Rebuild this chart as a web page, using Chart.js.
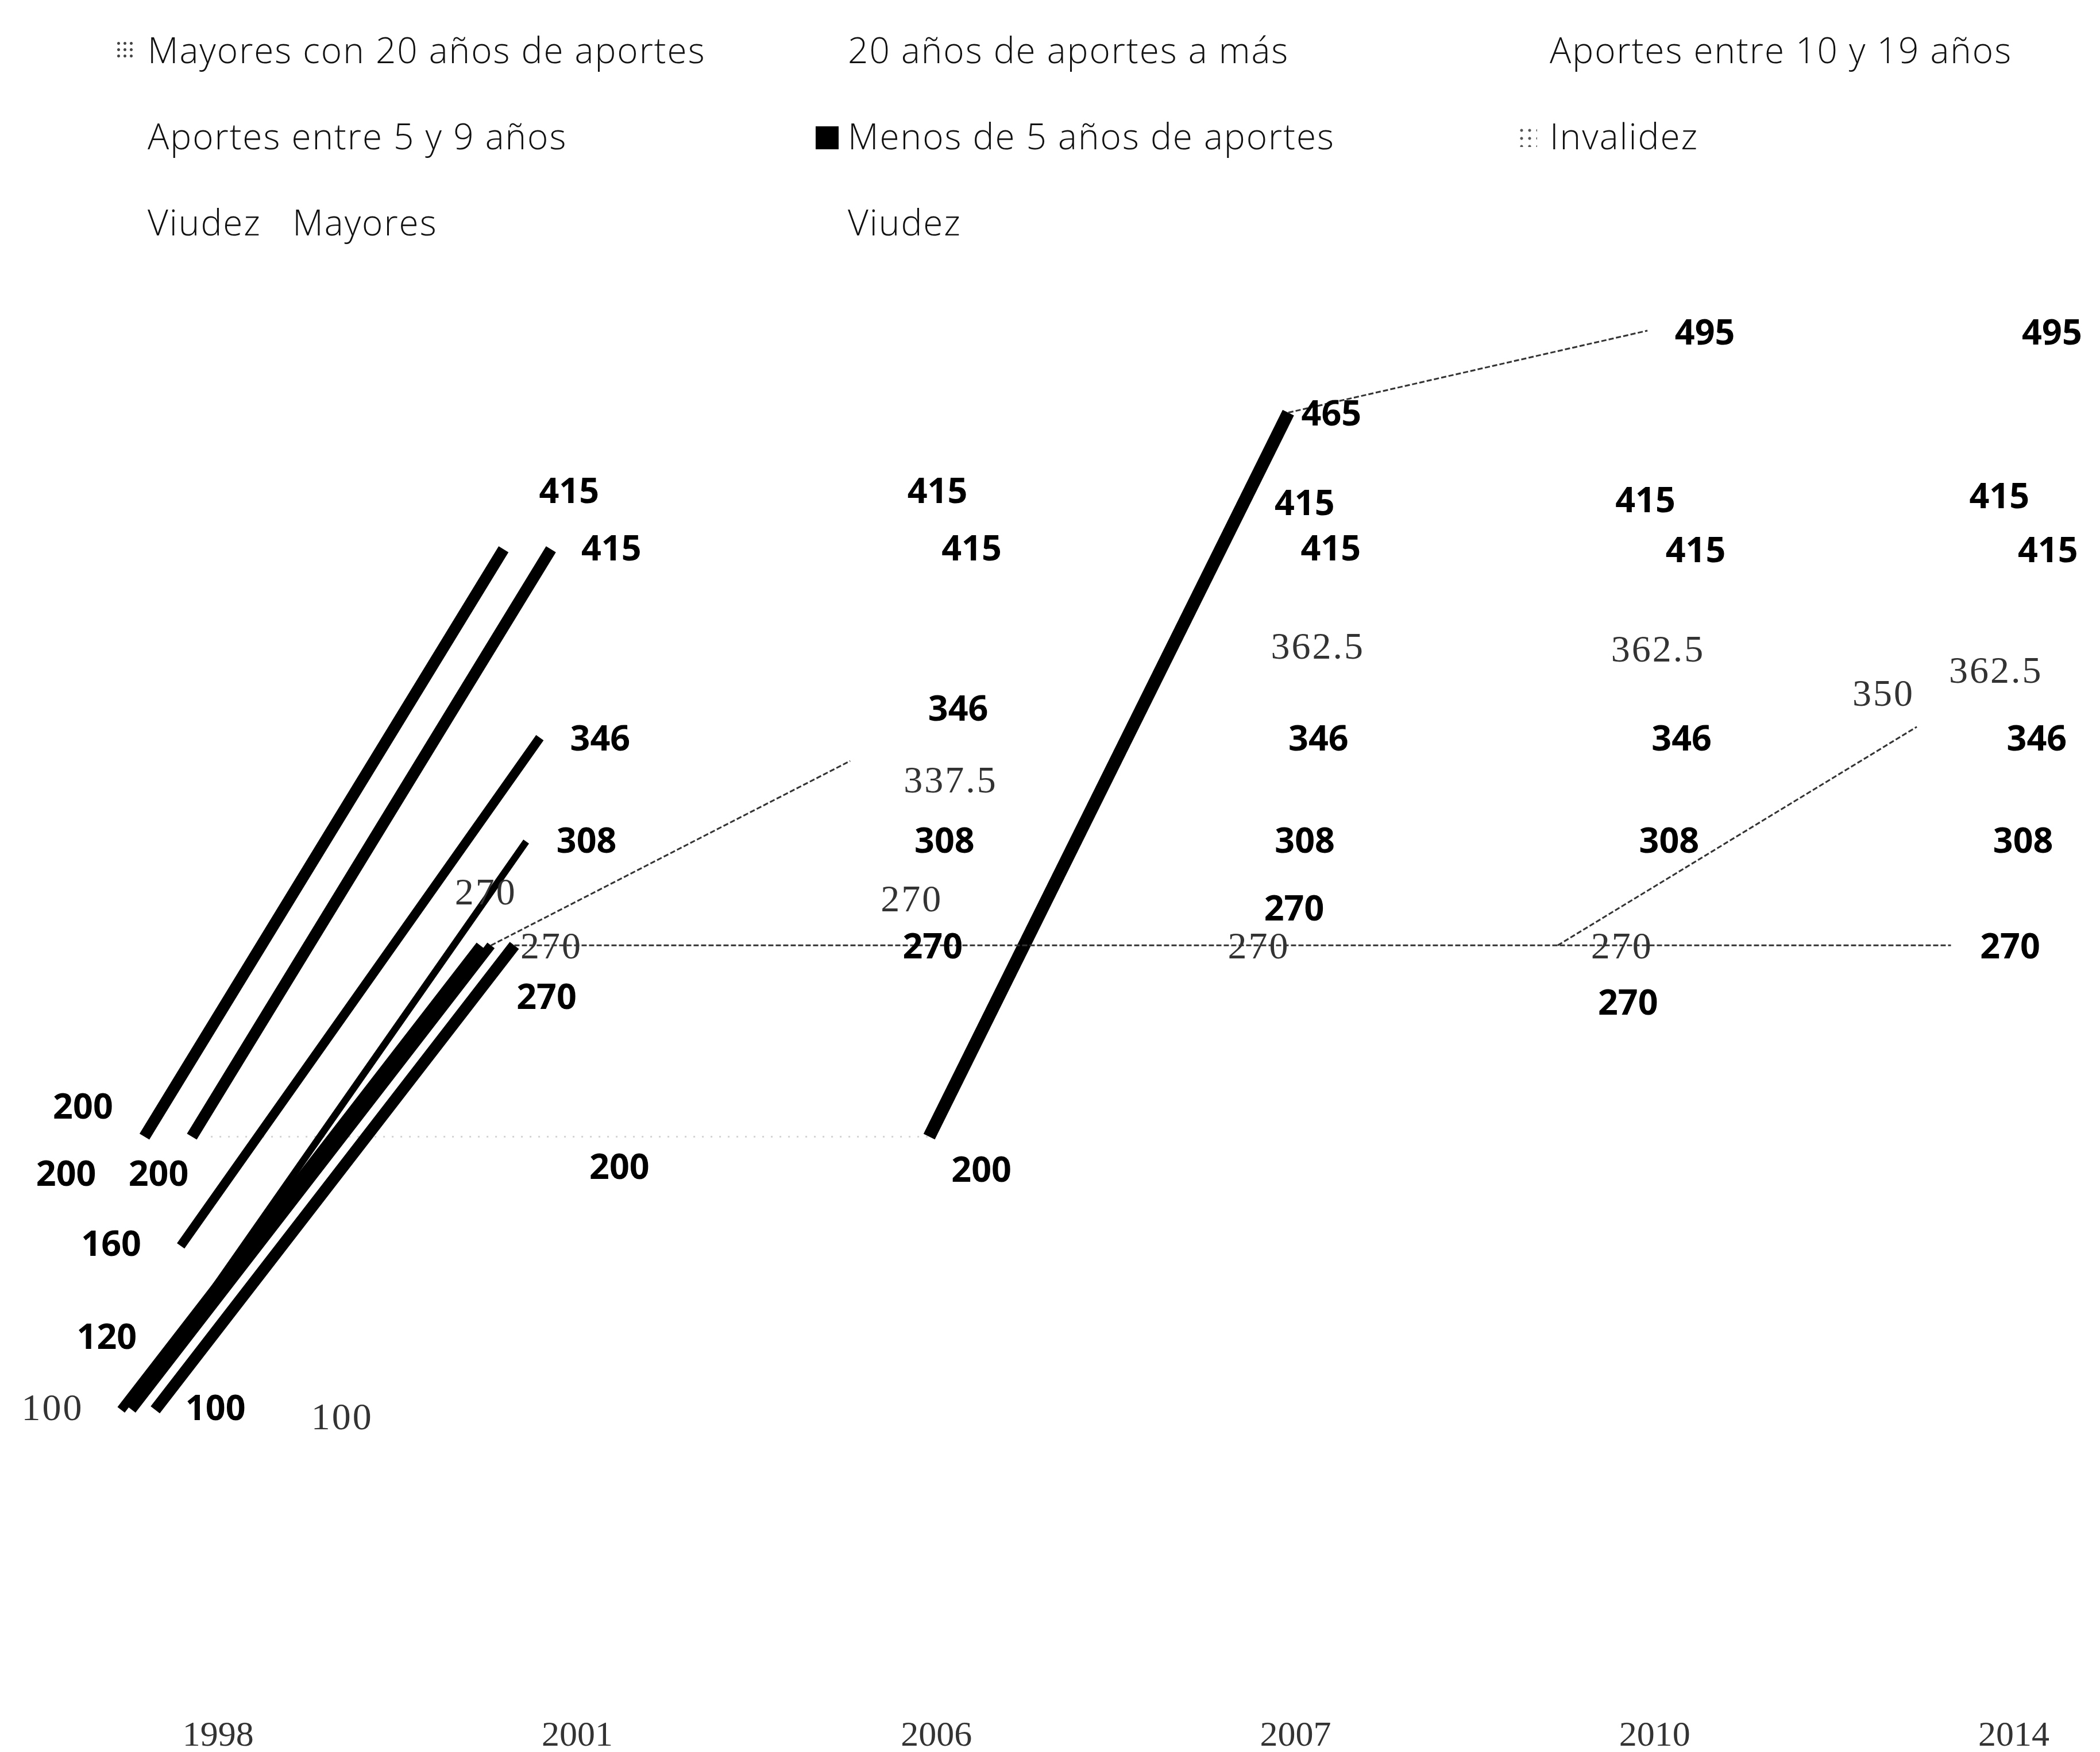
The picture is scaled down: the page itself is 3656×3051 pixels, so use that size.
<!DOCTYPE html>
<html lang="es">
<head>
<meta charset="utf-8">
<title>Pensiones mínimas</title>
<script src="https://cdn.jsdelivr.net/npm/chart.js@4.4.1/dist/chart.umd.min.js"></script>
<style>
html,body{margin:0;padding:0;background:#fff;}
#wrap{position:relative;width:3656px;height:3051px;}
#chart{position:absolute;left:0;top:0;}
.leg{position:absolute;font-family:'Open Sans',sans-serif;font-weight:300;font-size:62px;line-height:62px;letter-spacing:2px;color:#111;white-space:pre;}
.mk{position:absolute;}
.mk.hatch{width:30px;height:34px;background-image:radial-gradient(#444 2px,transparent 3px);background-size:11px 11px;}
.mk.solid{width:40px;height:40px;background:#000;}
.mk.dots{width:34px;height:36px;background-image:radial-gradient(#555 2px,transparent 3px);background-size:14px 14px;}
</style>
</head>
<body>
<div id="wrap">
<canvas id="chart" width="3656" height="3051"></canvas>
<div id="legend"></div>
</div>
<script>
const years = ['1998', '2001', '2006', '2007', '2010', '2014'];

const seriesNames = [
  'Mayores con 20 años de aportes',
  '20 años de aportes a más',
  'Aportes entre 10 y 19 años',
  'Aportes entre 5 y 9 años',
  'Menos de 5 años de aportes',
  'Invalidez',
  'Viudez   Mayores',
  'Viudez'
];
const legendMarks = ['hatch', '', '', '', 'solid', 'dots', '', ''];

// montos por año (S/)
const mayores20 = [200, 200, 200, 465, 495, 495];
const veinteMas = [200, 415, 415, 415, 415, 415];
const entre10y19 = [160, 346, 346, 346, 346, 346];
const entre5y9 = [120, 308, 308, 308, 308, 308];
const menos5 = [100, 270, 270, 270, 270, 270];
const invalidez = [200, 415, 415, 415, 415, 415];
const viudezMayores = [100, 270, 337.5, 362.5, 362.5, 362.5];
const viudez = [100, 270, 270, 270, 270, 350];

// legend, three columns
const legCols = [257, 1476, 2698];
const legBase = [110, 260, 410];
const legBox = document.getElementById('legend');
seriesNames.forEach((name, i) => {
  const col = i % 3, row = Math.floor(i / 3);
  const t = document.createElement('div');
  t.className = 'leg';
  t.textContent = name;
  t.style.left = legCols[col] + 'px';
  t.style.top = (legBase[row] - 55) + 'px';
  legBox.appendChild(t);
  if (legendMarks[i]) {
    const m = document.createElement('div');
    m.className = 'mk ' + legendMarks[i];
    m.style.left = (legCols[col] - 56) + 'px';
    m.style.top = (legBase[row] - 40) + 'px';
    legBox.appendChild(m);
  }
});

const strokes = {
  thick: { color: '#000', dash: [] },
  dash: { color: '#333', dash: [9, 4], width: 3 },
  dots: { color: '#d4d4d4', dash: [3, 12], width: 3 },
  none: { color: 'rgba(0,0,0,0)', dash: [] }
};

const boldFont = 'bold 61px "Noto Sans"';
const lightFont = '66px "Liberation Serif"';

function series(name, values, shift, segs, width, offsets, font) {
  return {
    label: name,
    data: values.map((v, i) => ({ x: i + shift, y: v })),
    borderColor: '#000',
    borderWidth: width,
    borderCapStyle: 'butt',
    pointRadius: 0,
    fill: false,
    tension: 0,
    labelOffsets: offsets,
    labelFont: font,
    segment: {
      borderColor: c => strokes[segs[c.p0DataIndex]].color,
      borderDash: c => strokes[segs[c.p0DataIndex]].dash,
      borderWidth: c => strokes[segs[c.p0DataIndex]].width || width
    }
  };
}

const datasets = [
  series(seriesNames[5], invalidez, -0.205, ['thick', 'none', 'none', 'none', 'none'], 20,
    [[-107, -49], [114, -98], [130, -98], [144, -77], [112, -82], [103, -89]], boldFont),
  series(seriesNames[1], veinteMas, -0.073, ['thick', 'none', 'none', 'none', 'none'], 20,
    [[-58, 68], [105, 2], [107, 2], [107, 2], [117, 5], [105, 5]], boldFont),
  series(seriesNames[2], entre10y19, -0.104, ['thick', 'none', 'none', 'none', 'none'], 16,
    [[-121, 0], [105, 5], [103, -47], [105, 5], [112, 5], [105, 5]], boldFont),
  series(seriesNames[3], entre5y9, -0.142, ['thick', 'none', 'none', 'none', 'none'], 12,
    [[-105, -28], [105, 2], [103, 2], [105, 2], [114, 2], [105, 2]], boldFont),
  series(seriesNames[4], menos5, -0.175, ['thick', 'dash', 'dash', 'dash', 'dash'], 20,
    [[105, 0], [56, 93], [103, 5], [107, -61], [63, 103], [103, 5]], boldFont),
  series(seriesNames[6], viudezMayores, -0.24, ['thick', 'dash', 'none', 'none', 'none'], 16,
    [[-138, 0], [-9, -89], [175, 37], [189, -77], [156, -72], [119, -35]], lightFont),
  series(seriesNames[7], viudez, -0.27, ['thick', 'none', 'none', 'none', 'dash'], 16,
    [[385, 16], [124, 5], [126, -77], [105, 5], [112, 5], [-58, -54]], lightFont),
  series(seriesNames[0], mayores20, -0.02, ['dots', 'dots', 'thick', 'dash', 'none'], 22,
    [[-252, 68], [86, 56], [91, 61], [75, 5], [100, 7], [79, 7]], boldFont)
];

// value labels next to every point
const valueLabels = {
  id: 'valueLabels',
  afterDatasetsDraw(chart) {
    const ctx = chart.ctx;
    chart.data.datasets.forEach((ds, di) => {
      const meta = chart.getDatasetMeta(di);
      const light = ds.labelFont === lightFont;
      ctx.save();
      ctx.font = ds.labelFont;
      ctx.fillStyle = light ? '#333' : '#000';
      ctx.letterSpacing = light ? '3px' : '0px';
      ctx.textAlign = 'center';
      ctx.textBaseline = 'middle';
      meta.data.forEach((pt, i) => {
        const v = ds.data[i].y;
        if (v == null) return;
        const off = ds.labelOffsets[i];
        ctx.fillText(String(v), pt.x + off[0], pt.y + off[1]);
      });
      ctx.restore();
    });
  }
};

new Chart(document.getElementById('chart'), {
  type: 'line',
  data: { datasets: datasets },
  options: {
    responsive: false,
    animation: false,
    layout: { padding: { left: 67, right: 0, top: 552, bottom: 0 } },
    plugins: { legend: { display: false }, tooltip: { enabled: false } },
    scales: {
      x: {
        type: 'linear',
        min: -0.5,
        max: 5.24,
        grid: { display: false, drawTicks: false },
        border: { display: false },
        afterBuildTicks: s => { s.ticks = years.map((y, i) => ({ value: i })); },
        afterFit: s => { s.height = 120; },
        ticks: {
          callback: v => years[v],
          font: { family: 'Liberation Serif', size: 62 },
          color: '#333',
          padding: 56,
          maxRotation: 0,
          autoSkip: false
        }
      },
      y: { display: false, min: 0, max: 500 }
    }
  },
  plugins: [valueLabels]
});
</script>
</body>
</html>
